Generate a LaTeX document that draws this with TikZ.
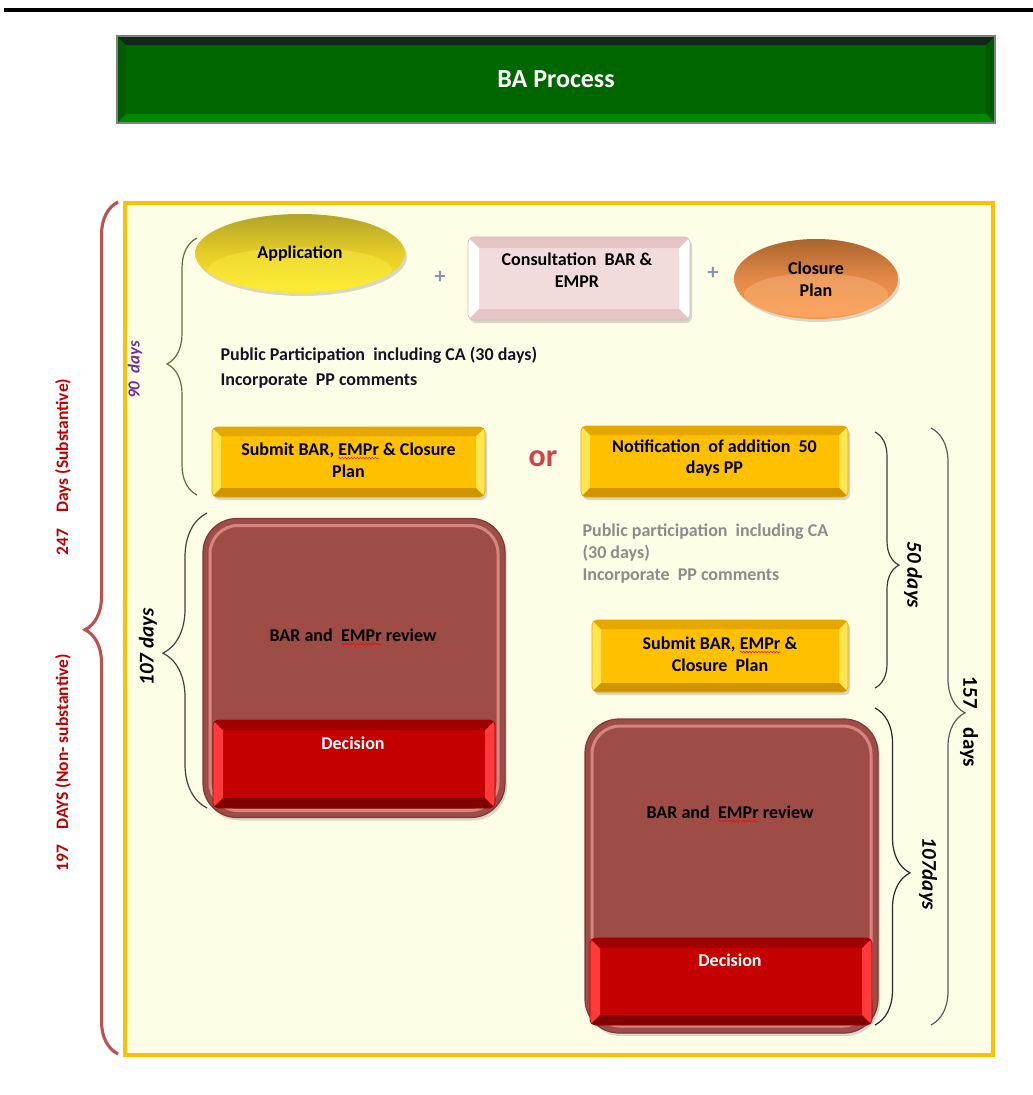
\documentclass[tikz,border=0pt]{standalone}
\usepackage{fontspec}
\setmainfont{Carlito}
\usetikzlibrary{decorations.pathreplacing,decorations.pathmorphing,shadows,shapes.geometric}
\definecolor{gold}{HTML}{FFC000}
\definecolor{goldlt}{HTML}{FFE650}
\definecolor{golddk}{HTML}{E6A800}
\definecolor{goldbt}{HTML}{D09400}
\definecolor{pinkc}{HTML}{F2DCDB}
\definecolor{pinklt}{HTML}{FFFFFF}
\definecolor{pinkdk}{HTML}{E6C6C4}
\definecolor{decc}{HTML}{C40000}
\definecolor{declt}{HTML}{FF3A3A}
\definecolor{decdk}{HTML}{A00000}
\definecolor{revc}{HTML}{9E4C46}
\definecolor{revd}{HTML}{7E3A36}
\definecolor{revlt}{HTML}{E89A94}
\definecolor{grn}{HTML}{006600}
\definecolor{grnlt}{HTML}{005C00}
\definecolor{grndk}{HTML}{13261A}
\definecolor{grnbt}{HTML}{008A00}
\definecolor{panelc}{HTML}{FEFEE6}
\definecolor{bracered}{HTML}{C0504D}
\definecolor{lblred}{HTML}{C00000}
\definecolor{purp}{HTML}{7030A0}
\definecolor{plusc}{HTML}{8496B0}
\definecolor{orc}{HTML}{D2404A}
\definecolor{ppgray}{HTML}{8C8C8C}
\newcommand\sqg[1]{\tikz[baseline=(sq.base)]{\node[rectangle,inner sep=0pt,outer sep=0pt,minimum width=0pt,minimum height=0pt,path picture={}](sq){#1};\draw[red,line width=0.5pt,decorate,decoration={snake,amplitude=0.7pt,segment length=3pt}]([yshift=-2.5pt]sq.south west)--([yshift=-2.5pt]sq.south east);}}
\tikzset{
  every node/.style={font=\fontsize{18}{21.5}\selectfont\bfseries},
  bevel/.style n args={4}{path picture={
    \fill[#1,sharp corners] (path picture bounding box.north west) -- (path picture bounding box.south west) -- ([shift={(#4,#4)}]path picture bounding box.south west) -- ([shift={(#4,-#4)}]path picture bounding box.north west) -- cycle;
    \fill[#1,sharp corners] (path picture bounding box.north east) -- (path picture bounding box.south east) -- ([shift={(-#4,#4)}]path picture bounding box.south east) -- ([shift={(-#4,-#4)}]path picture bounding box.north east) -- cycle;
    \fill[#2,sharp corners] (path picture bounding box.north west) -- (path picture bounding box.north east) -- ([shift={(-#4,-#4)}]path picture bounding box.north east) -- ([shift={(#4,-#4)}]path picture bounding box.north west) -- cycle;
    \fill[#3,sharp corners] (path picture bounding box.south west) -- (path picture bounding box.south east) -- ([shift={(-#4,#4)}]path picture bounding box.south east) -- ([shift={(#4,#4)}]path picture bounding box.south west) -- cycle;
  }},
  shad/.style={drop shadow={opacity=0.3,shadow xshift=2pt,shadow yshift=-3pt}},
  goldbox/.style={rectangle,rounded corners=5pt,fill=gold,draw=golddk,line width=0.6pt,shad,
    bevel={goldlt}{golddk}{goldbt}{9pt}},
  pinkbox/.style={rectangle,rounded corners=6pt,fill=pinkc,draw=pinkdk!80!gray,line width=0.6pt,shad,
    bevel={pinklt}{pinkdk}{pinkdk}{11pt}},
  decbox/.style={rectangle,rounded corners=5pt,fill=decc,draw=decdk,line width=0.6pt,
    bevel={declt}{decdk}{decdk!80!black}{10pt}},
  revbox/.style={rectangle,rounded corners=34pt,fill=revc,draw=revd,line width=1.2pt,shad,
    path picture={\draw[revlt,opacity=0.75,line width=3pt,rounded corners=28pt]
      ([shift={(7pt,-7pt)}]path picture bounding box.north west) rectangle ([shift={(-7pt,7pt)}]path picture bounding box.south east);}},
  banner/.style={rectangle,fill=grn,draw=gray,line width=1.5pt,
    bevel={grnlt}{grndk}{grnbt}{9pt},text=white,font=\fontsize{26}{30}\selectfont\bfseries},
  panel/.style={rectangle,fill=panelc,draw=gold,line width=3.5pt},
  brc/.style={decorate,line width=1.2pt},
  boxtext/.style={align=center,text=black},
  rotlbl/.style={font=\fontsize{21}{24}\selectfont\bfseries\itshape,text=black},
  redlbl/.style={font=\fontsize{17.5}{20}\selectfont\bfseries,text=lblred},
}
\begin{document}
\begin{tikzpicture}[x=1pt,y=-1pt]
\useasboundingbox (0,0) rectangle (1033,1095);
\fill[white] (0,0) rectangle (1033,1095);
\draw[line width=4pt] (4,10) -- (1033,10);
% title
\node[banner,minimum width=878,minimum height=87] (title) at (556,79.5) {BA Process};
% panel
\node[panel,minimum width=868,minimum height=852] (panel) at (559,629) {};
% big red brace
\coordinate (rb1) at (118,1054);
\coordinate (rb2) at (118,202);
\draw[gray,opacity=0.35,line width=3pt,decorate,decoration={brace,amplitude=33pt,aspect=0.498},xshift=2pt,yshift=-2pt] (rb1) -- (rb2);
\draw[bracered,line width=3pt,decorate,decoration={brace,amplitude=33pt,aspect=0.498}] (rb1) -- (rb2);
\node[redlbl,rotate=90] (l247) at (63,467) {247~~~ Days (Substantive)};
\node[redlbl,rotate=90] (l197) at (63,763) {197~~~ DAYS (Non- substantive)};
% 90 days brace
\coordinate (b90a) at (197,495);
\coordinate (b90b) at (197,238);
\draw[brc,draw={rgb,255:red,95;green,110;blue,64},decoration={brace,amplitude=30pt,aspect=0.51}] (b90a) -- (b90b);
\node[rotate=90,font=\fontsize{17}{20}\selectfont\bfseries\itshape,text=purp] (l90) at (135,370) {90~ days};
% first row
\node[ellipse,minimum width=210,minimum height=79,shad,top color={rgb,255:red,178;green,164;blue,40},bottom color={rgb,255:red,255;green,232;blue,40},middle color={rgb,255:red,230;green,205;blue,40},
  path picture={\fill[yellow!70!white,opacity=0.35] ([yshift=-16pt]path picture bounding box.center) ellipse (92pt and 22pt);}] (app) at (300,253.5) {Application};
\node[text=plusc,font=\fontsize{22}{22}\selectfont\bfseries] (plus1) at (440,277) {+};
\node[pinkbox,minimum width=222,minimum height=83] (cons) at (579,278.5) {};
\node[boxtext] (const) at (577,270) {Consultation~ BAR \&\\EMPR};
\node[text=plusc,font=\fontsize{22}{22}\selectfont\bfseries] (plus2) at (713,273) {+};
\node[ellipse,minimum width=164,minimum height=80,shad,top color={rgb,255:red,170;green,100;blue,45},bottom color={rgb,255:red,255;green,150;blue,70},middle color={rgb,255:red,228;green,138;blue,72},
  path picture={\fill[orange!40!white,opacity=0.3] ([yshift=-16pt]path picture bounding box.center) ellipse (72pt and 22pt);},align=center] (clos) at (816,279) {Closure\\Plan};
% PP text
\node[anchor=west,align=left,font=\fontsize{18}{24.5}\selectfont\bfseries,text={rgb,255:red,20;green,20;blue,40}] (pp1) at (217,367.5) {Public Participation~ including CA (30 days)\\Incorporate~ PP comments};
% submit left / notification
\node[goldbox,minimum width=273,minimum height=70] (sub1) at (348.5,462) {};
\node[boxtext] (sub1t) at (348.5,460) {Submit BAR, \sqg{EMPr} \& Closure\\Plan};
\node[text=orc,font=\fontsize{32}{32}\selectfont\bfseries] (or) at (543,459) {or};
\node[goldbox,minimum width=267,minimum height=71] (notif) at (714.5,461.5) {};
\node[boxtext] (notift) at (714.5,458) {Notification~ of addition~ 50\\days PP};
\node[anchor=west,align=left,font=\fontsize{18}{22}\selectfont\bfseries,text=ppgray] (pp2) at (579,554) {Public participation~ including CA\\(30 days)\\Incorporate~ PP comments};
\node[goldbox,minimum width=256,minimum height=72] (sub2) at (720,656) {};
\node[boxtext] (sub2t) at (720,654) {Submit BAR, \sqg{EMPr} \&\\Closure~ Plan};
% 50 days brace
\coordinate (b50a) at (875,432);
\coordinate (b50b) at (875,688);
\draw[brc,draw={rgb,255:red,60;green,60;blue,60},decoration={brace,amplitude=24pt,aspect=0.52}] (b50a) -- (b50b);
\node[rotlbl,rotate=-90] (l50) at (913,575) {50 days};
% 157 brace
\coordinate (b157a) at (931,428);
\coordinate (b157b) at (931,1025);
\draw[brc,draw={rgb,255:red,90;green,90;blue,90},decoration={brace,amplitude=34pt,aspect=0.477}] (b157a) -- (b157b);
\node[rotate=-90,font=\fontsize{21}{24}\selectfont\bfseries,text=black] (l157) at (969,722) {157~~~ days};
% left review
\node[revbox,minimum width=302,minimum height=299] (rev1) at (354,668) {};
\node[text=black] (rev1t) at (353,637) {BAR and~ \sqg{EMPr} review};
\node[decbox,minimum width=282,minimum height=88] (dec1) at (354,764) {};
\node[text=white] (dec1t) at (353,743) {Decision};
\coordinate (b107a) at (207,808);
\coordinate (b107b) at (207,513);
\draw[brc,draw={rgb,255:red,64;green,64;blue,64},decoration={brace,amplitude=44pt,aspect=0.525}] (b107a) -- (b107b);
\node[rotlbl,rotate=90] (l107a) at (148,647) {107 days};
% right review
\node[revbox,minimum width=293,minimum height=314] (rev2) at (731.5,876) {};
\node[text=black] (rev2t) at (730,814) {BAR and~ \sqg{EMPr} review};
\node[decbox,minimum width=282,minimum height=87] (dec2) at (731,981.5) {};
\node[text=white] (dec2t) at (730,960) {Decision};
\coordinate (b107c) at (875,708);
\coordinate (b107d) at (875,1025);
\draw[brc,draw={rgb,255:red,40;green,40;blue,40},decoration={brace,amplitude=35pt,aspect=0.52}] (b107c) -- (b107d);
\node[rotlbl,rotate=-90] (l107b) at (928,874) {107days};
\end{tikzpicture}
\end{document}
